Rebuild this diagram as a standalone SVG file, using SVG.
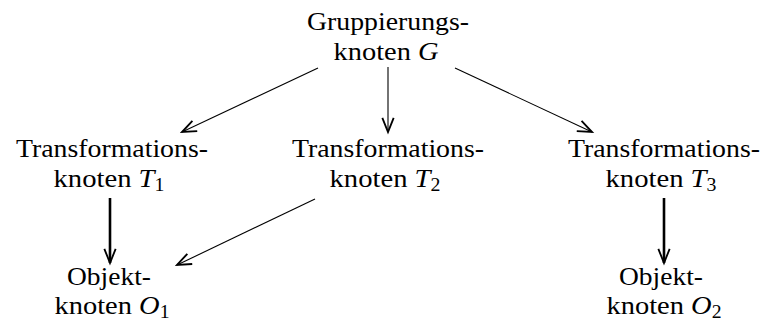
<svg xmlns="http://www.w3.org/2000/svg" width="765" height="325" viewBox="0 0 765 325">
  <style>
    text { font-family: 'Liberation Serif', 'Times New Roman', serif; font-size: 26px; fill: #000; text-anchor: middle; }
    .var { font-style: italic; }
    .sub { font-size: 18px; }
    .thin { stroke: #000; stroke-width: 1.1; fill: none; marker-end: url(#vee); }
    .thick { stroke: #000; stroke-width: 2.6; fill: none; marker-end: url(#vee); }
  </style>
  <defs>
    <marker id="vee" markerUnits="userSpaceOnUse" markerWidth="20" markerHeight="20" viewBox="-10 -6 12 12" refX="0" refY="0" orient="auto">
      <path d="M -8.5 -3.4 L 0 0 L -8.5 3.4" stroke="#000" stroke-width="1.1" fill="none"/>
    </marker>
  </defs>

  <rect width="765" height="325" fill="#fff"/>

  <g id="edges">
    <line class="thin" x1="318" y1="68" x2="182" y2="132"/>
    <line class="thin" x1="388" y1="67" x2="388" y2="132"/>
    <line class="thin" x1="455" y1="68" x2="592" y2="132"/>
    <line class="thick" x1="110" y1="198" x2="110" y2="263"/>
    <line class="thin" x1="315" y1="199" x2="177" y2="265"/>
    <line class="thick" x1="664" y1="198" x2="664" y2="263"/>
  </g>

  <g id="G">
    <text x="388" y="30" textLength="162" lengthAdjust="spacingAndGlyphs">Gruppierungs-</text>
    <text x="386" y="60" textLength="105" lengthAdjust="spacingAndGlyphs">knoten <tspan class="var">G</tspan></text>
  </g>

  <g id="T1">
    <text x="112" y="157" textLength="192" lengthAdjust="spacingAndGlyphs">Transformations-</text>
    <text x="109" y="187" textLength="111" lengthAdjust="spacingAndGlyphs">knoten <tspan class="var">T</tspan><tspan class="sub" dy="4">1</tspan></text>
  </g>

  <g id="T2">
    <text x="388" y="157" textLength="192" lengthAdjust="spacingAndGlyphs">Transformations-</text>
    <text x="385" y="187" textLength="111" lengthAdjust="spacingAndGlyphs">knoten <tspan class="var">T</tspan><tspan class="sub" dy="4">2</tspan></text>
  </g>

  <g id="T3">
    <text x="664" y="157" textLength="192" lengthAdjust="spacingAndGlyphs">Transformations-</text>
    <text x="661" y="187" textLength="111" lengthAdjust="spacingAndGlyphs">knoten <tspan class="var">T</tspan><tspan class="sub" dy="4">3</tspan></text>
  </g>

  <g id="O1">
    <text x="109" y="285" textLength="84" lengthAdjust="spacingAndGlyphs">Objekt-</text>
    <text x="112" y="314" textLength="115" lengthAdjust="spacingAndGlyphs">knoten <tspan class="var">O</tspan><tspan class="sub" dy="4">1</tspan></text>
  </g>

  <g id="O2">
    <text x="661" y="285" textLength="84" lengthAdjust="spacingAndGlyphs">Objekt-</text>
    <text x="664" y="314" textLength="115" lengthAdjust="spacingAndGlyphs">knoten <tspan class="var">O</tspan><tspan class="sub" dy="4">2</tspan></text>
  </g>
</svg>
